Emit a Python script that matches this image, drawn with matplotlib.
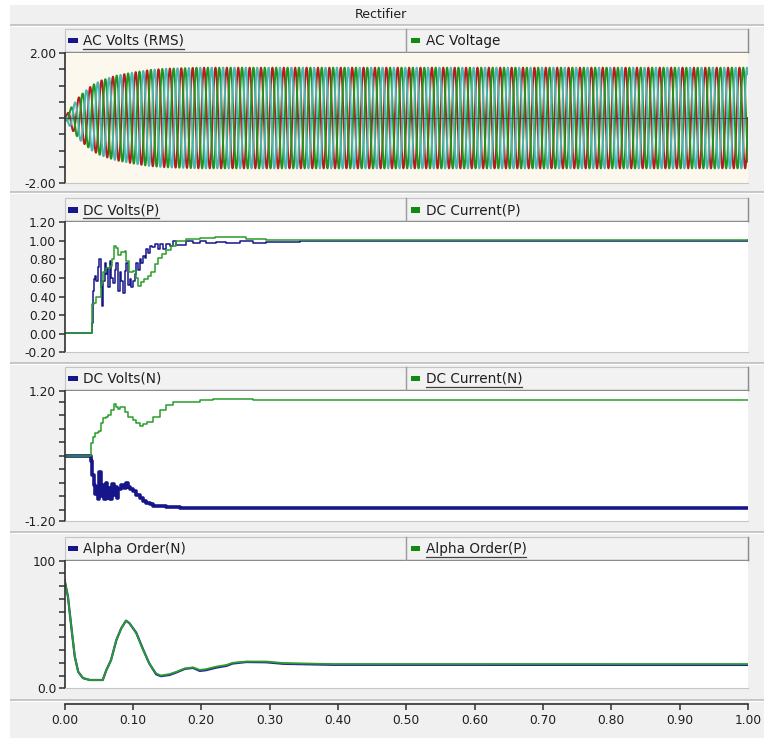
import numpy as np
import matplotlib
matplotlib.use("Agg")
import matplotlib.pyplot as plt
from matplotlib.patches import Rectangle
from matplotlib.ticker import FixedLocator, FixedFormatter

# ---------------------------------------------------------------- data
# AC source: envelope of the three phase voltages (pu) and frequency
ac_env_t = [0.0, 0.010, 0.023, 0.040, 0.053, 0.075, 0.100, 0.125, 0.150, 0.200, 1.0]
ac_env_v = [0.0, 0.33, 0.69, 1.00, 1.15, 1.30, 1.40, 1.48, 1.52, 1.55, 1.55]
ac_freq = 60.0

# DC Volts(P)
dcvp_t = [0.0, 0.039, 0.040, 0.0415, 0.043, 0.045, 0.0463, 0.0488, 0.0512, 0.0527, 0.0542,
          0.0561, 0.0586, 0.0600, 0.0620, 0.0639, 0.0659, 0.0683, 0.0707, 0.0732, 0.0756,
          0.0781, 0.0805, 0.0830, 0.0854, 0.0878, 0.0903, 0.0927, 0.0951, 0.0976, 0.1000,
          0.1025, 0.1049, 0.1073, 0.1098, 0.1122, 0.1147, 0.1171, 0.1195, 0.1220, 0.1244,
          0.1283, 0.1317, 0.1366, 0.1390, 0.1439, 0.1488, 0.1537, 0.1586, 0.1635, 0.1708,
          0.1781, 0.1879, 0.1976, 0.2073, 0.2220, 0.2366, 0.2561, 0.2756, 0.2951, 0.3195,
          0.3439, 1.0]
dcvp_v = [0.01, 0.01, 0.12, 0.46, 0.59, 0.62, 0.57, 0.72, 0.80, 0.50, 0.30,
          0.57, 0.76, 0.64, 0.71, 0.50, 0.78, 0.60, 0.55, 0.69, 0.76,
          0.46, 0.66, 0.57, 0.44, 0.68, 0.76, 0.53, 0.59, 0.50, 0.57,
          0.64, 0.76, 0.69, 0.80, 0.76, 0.84, 0.82, 0.91, 0.87, 0.94,
          0.93, 0.97, 0.91, 0.97, 0.91, 0.97, 0.94, 1.00, 0.96, 0.96,
          1.00, 0.98, 1.00, 0.98, 0.99, 0.98, 1.00, 0.98, 0.99, 0.99,
          1.00, 1.01]

# DC Current(P)
dcip_t = [0.0, 0.039, 0.040, 0.043, 0.046, 0.051, 0.054, 0.056, 0.061, 0.066, 0.069,
          0.073, 0.076, 0.078, 0.083, 0.088, 0.090, 0.095, 0.100, 0.105, 0.107,
          0.112, 0.117, 0.122, 0.127, 0.132, 0.137, 0.142, 0.149, 0.156, 0.163,
          0.178, 0.198, 0.220, 0.246, 0.266, 0.295, 1.0]
dcip_v = [0.01, 0.01, 0.32, 0.33, 0.40, 0.40, 0.55, 0.66, 0.71, 0.73, 0.80,
          0.94, 0.92, 0.85, 0.88, 0.89, 0.78, 0.66, 0.68, 0.60, 0.51,
          0.56, 0.59, 0.62, 0.66, 0.75, 0.82, 0.86, 0.90, 0.95, 1.00,
          1.02, 1.03, 1.04, 1.04, 1.02, 1.01, 1.01]

# DC Volts(N)
dcvn_t = [0.0, 0.039, 0.0395, 0.0405, 0.0425, 0.045, 0.0475, 0.0495, 0.051, 0.0527, 0.0547,
          0.0571, 0.060, 0.062, 0.0644, 0.0668, 0.0693, 0.0717, 0.0742, 0.0766, 0.0790,
          0.0830, 0.0864, 0.0893, 0.0927, 0.0961, 0.100, 0.1049, 0.1098, 0.1147, 0.1195,
          0.1244, 0.1293, 0.1390, 0.1488, 0.1683, 0.1976, 1.0]
dcvn_v = [0.0, 0.0, -0.10, -0.35, -0.55, -0.70, -0.58, -0.80, -0.30, -0.75, -0.55,
          -0.80, -0.50, -0.78, -0.60, -0.80, -0.52, -0.72, -0.58, -0.78, -0.62,
          -0.55, -0.60, -0.50, -0.58, -0.62, -0.66, -0.72, -0.78, -0.84, -0.88,
          -0.90, -0.92, -0.93, -0.95, -0.96, -0.97, -0.97]

# DC Current(N)
dcin_t = [0.0, 0.039, 0.0395, 0.0415, 0.044, 0.0488, 0.051, 0.0537, 0.056, 0.060, 0.063,
          0.068, 0.073, 0.0756, 0.078, 0.0815, 0.085, 0.0888, 0.093, 0.100, 0.105,
          0.110, 0.115, 0.120, 0.129, 0.139, 0.149, 0.159, 0.178, 0.198, 0.217,
          0.266, 0.276, 1.0]
dcin_v = [0.0, 0.0, 0.23, 0.35, 0.41, 0.44, 0.45, 0.60, 0.69, 0.72, 0.75,
          0.84, 0.95, 0.90, 0.87, 0.90, 0.89, 0.80, 0.72, 0.66, 0.60,
          0.54, 0.58, 0.63, 0.72, 0.84, 0.93, 0.99, 1.00, 1.03, 1.05,
          1.05, 1.02, 1.02]

# Alpha Order (deg)
alpha_t = [0.0, 0.005, 0.010, 0.015, 0.020, 0.027, 0.037, 0.056, 0.061, 0.068, 0.076,
           0.083, 0.090, 0.095, 0.105, 0.115, 0.124, 0.134, 0.141, 0.154, 0.164,
           0.176, 0.188, 0.198, 0.207, 0.222, 0.237, 0.246, 0.266, 0.295, 0.320,
           0.393, 1.0]
alpha_p = [85, 72, 48, 25, 13, 8, 6.5, 6.5, 14, 22, 38,
           47, 53, 51, 43, 30, 19.5, 11.7, 10, 11.2, 13,
           15.6, 16.4, 14.4, 15, 17, 18.3, 20, 21, 21, 19.8,
           19, 19]
alpha_n = [85, 72, 48, 25, 13, 8, 6.5, 6.5, 14, 22, 38,
           47, 53, 51, 43.5, 30.5, 19.5, 11.0, 9.5, 10.5, 12.5,
           15.2, 16.0, 13.6, 14.2, 16.2, 17.6, 19.4, 20.6, 20.4, 19.2,
           18.4, 18.3]

time_ticks = [0.0, 0.1, 0.2, 0.3, 0.4, 0.5, 0.6, 0.7, 0.8, 0.9, 1.0]

# ---------------------------------------------------------------- style
W, H = 764, 740
BG = "#f0f0f0"
NAVY = "#16168a"
GREEN = "#2a9d2a"
TXT = "#1e1e1e"
AXC = "#303030"
FONT = "DejaVu Sans"
X0, X1 = 64.5, 748.0

fig = plt.figure(figsize=(W / 100, H / 100), dpi=100)
fig.patch.set_facecolor("white")

# pixel-coordinate canvas for the frame, headers and title
bg = fig.add_axes([0, 0, 1, 1], zorder=0)
bg.set_xlim(0, W)
bg.set_ylim(H, 0)
bg.axis("off")
bg.add_patch(Rectangle((10, 5), W - 10, H - 7, facecolor=BG, edgecolor="none"))
bg.text(381, 14, "Rectifier", ha="center", va="center", fontsize=9,
        family=FONT, color=TXT)

for ys in [25, 191.5, 362.5, 531.5, 699.5]:
    bg.plot([10, W], [ys, ys], color="#b9b9b9", lw=1.1, solid_capstyle="butt")
    bg.plot([10, W], [ys + 1.3, ys + 1.3], color="white", lw=0.8, solid_capstyle="butt")


def header(top, left_label, right_label, ul_left, ul_right):
    h0, h1 = top - 24, top - 1
    bg.add_patch(Rectangle((X0, h0), X1 - X0, h1 - h0, facecolor="#f2f2f2",
                           edgecolor="#c4c4c4", lw=0.8))
    bg.plot([X0, X1], [h1, h1], color="#8c8c8c", lw=1.0)
    bg.plot([X1, X1], [h0, h1], color="#8c8c8c", lw=1.0)
    bg.plot([405.5, 405.5], [h0, h1], color="#9a9a9a", lw=1.0)
    cy = (h0 + h1) / 2 + 0.5
    for mx, label, col, ul in [(68, left_label, NAVY, ul_left),
                               (410.5, right_label, "#108a10", ul_right)]:
        bg.add_patch(Rectangle((mx, cy - 3.2), 9.5, 5.6, facecolor=col, edgecolor="none"))
        t = bg.text(mx + 15, cy, label, ha="left", va="center", fontsize=9.8,
                    family=FONT, color=TXT)
        if ul:
            fig.canvas.draw()
            bb = t.get_window_extent()
            x_a = bb.x0 / fig.dpi * 100
            x_b = bb.x1 / fig.dpi * 100
            bg.plot([x_a, x_b], [cy + 8, cy + 8], color="#404040", lw=0.9)


def panel(top, bottom, ylim, ticks, labels, face="white"):
    ax = fig.add_axes([X0 / W, 1 - bottom / H, (X1 - X0) / W, (bottom - top) / H], zorder=2)
    ax.set_facecolor(face)
    ax.set_xlim(0, 1)
    ax.set_ylim(*ylim)
    for s in ["top", "right"]:
        ax.spines[s].set_visible(False)
    ax.spines["bottom"].set_color("#c6c6c6")
    ax.spines["left"].set_color(AXC)
    ax.spines["left"].set_linewidth(1.2)
    ax.set_xticks([])
    ax.yaxis.set_major_locator(FixedLocator(ticks))
    ax.yaxis.set_major_formatter(FixedFormatter(labels))
    ax.tick_params(axis="y", direction="out", length=4.5, width=1.1, color=AXC,
                   labelsize=8.8, labelcolor=TXT, pad=1.5)
    for lab in ax.get_yticklabels():
        lab.set_family(FONT)
    return ax


# ---------------------------------------------------------------- panel 1
header(53, "AC Volts (RMS)", "AC Voltage", True, False)
t1 = [-2, -1.5, -1, -0.5, 0, 0.5, 1, 1.5, 2]
l1 = ["-2.00", "", "", "", "", "", "", "", "2.00"]
ax1 = panel(53, 183, (-2, 2), t1, l1, face="#fdf8ee")
t_ac = np.linspace(0, 1, 24001)
env = np.interp(t_ac, ac_env_t, ac_env_v)
for ph, col in [(0.0, "#b21e1e"), (-2 * np.pi / 3, "#1f941f"), (2 * np.pi / 3, "#4cb4b4")]:
    ax1.plot(t_ac, env * np.sin(2 * np.pi * ac_freq * t_ac + ph), color=col, lw=1.4)
ax1.axhline(0, color="#3c3c58", lw=0.7, alpha=0.8, zorder=4)

# ---------------------------------------------------------------- panel 2
header(222.3, "DC Volts(P)", "DC Current(P)", True, False)
t2 = [-0.2, 0.0, 0.2, 0.4, 0.6, 0.8, 1.0, 1.2]
l2 = ["%.2f" % v for v in t2]
ax2 = panel(222.3, 352.3, (-0.2, 1.2), t2, l2)
ax2.plot(dcvp_t, dcvp_v, color=NAVY, lw=1.1, drawstyle="steps-post")
ax2.plot(dcip_t, dcip_v, color=GREEN, lw=1.1, drawstyle="steps-post")

# ---------------------------------------------------------------- panel 3
header(390.7, "DC Volts(N)", "DC Current(N)", False, True)
t3 = [-1.2, -1.0, -0.75, -0.5, -0.25, 0, 0.25, 0.5, 0.75, 1.0, 1.2]
l3 = ["-1.20", "", "", "", "", "", "", "", "", "", "1.20"]
ax3 = panel(390.7, 520.7, (-1.2, 1.2), t3, l3)
ax3.plot(dcvn_t, dcvn_v, color=NAVY, lw=2.6, drawstyle="steps-post")
ax3.plot(dcin_t, dcin_v, color=GREEN, lw=1.1, drawstyle="steps-post")

# ---------------------------------------------------------------- panel 4
header(560.7, "Alpha Order(N)", "Alpha Order(P)", False, True)
t4 = list(range(0, 101, 10))
l4 = ["0.0"] + [""] * 9 + ["100"]
ax4 = panel(560.7, 688.3, (0, 100), t4, l4)
ax4.plot(alpha_t, alpha_n, color="#2525a0", lw=1.6)
ax4.plot(alpha_t, alpha_p, color=GREEN, lw=1.3)

# ---------------------------------------------------------------- time axis
axt = fig.add_axes([X0 / W, 1 - 703.5 / H, (X1 - X0) / W, 0.5 / H], zorder=2)
axt.set_facecolor("none")
axt.set_xlim(0, 1)
axt.set_yticks([])
for s in ["top", "right", "left"]:
    axt.spines[s].set_visible(False)
axt.spines["bottom"].set_color(AXC)
axt.spines["bottom"].set_linewidth(1.2)
axt.set_xticks(time_ticks)
axt.set_xticklabels(["%.2f" % v for v in time_ticks])
axt.tick_params(axis="x", direction="out", length=4.5, width=1.1, color=AXC,
                labelsize=8.8, labelcolor=TXT, pad=3)
for lab in axt.get_xticklabels():
    lab.set_family(FONT)

fig.savefig("out.png", dpi=100, facecolor=fig.get_facecolor())
